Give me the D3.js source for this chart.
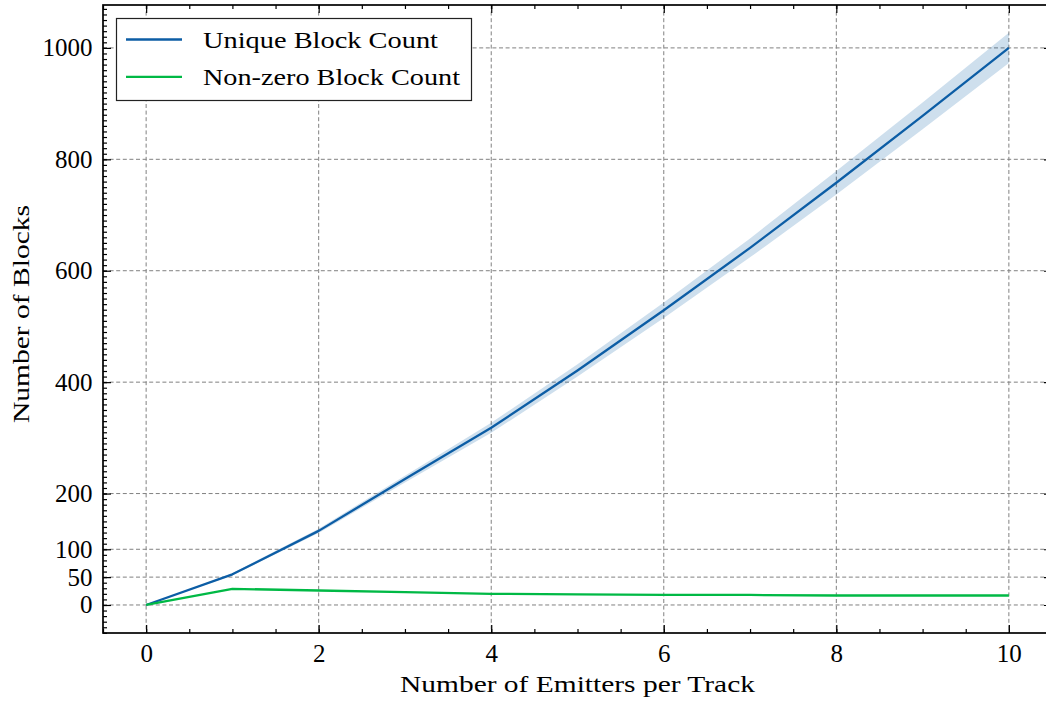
<!DOCTYPE html>
<html>
<head>
<meta charset="utf-8">
<script src="https://cdn.jsdelivr.net/npm/d3@7"></script>
<style>
  body { margin: 0; background: #fff; }
  text { font-family: "Liberation Serif", "DejaVu Serif", serif; fill: #000; }
</style>
</head>
<body>
<svg id="chart" width="1046" height="706"></svg>
<script>
// Emitters per track and the block counts measured for each
const emitters = [0, 1, 2, 3, 4, 5, 6, 7, 8, 9, 10];
const uniqueMean = [0, 55, 133, 226, 318, 421, 529, 641, 758, 878, 1000];
const uniqueStd = [0, 2, 4, 6, 9, 11, 14, 17, 21, 24, 27];
const nonzeroMean = [0, 29, 26, 23, 20, 19, 18, 18, 17, 17, 17];

const xTicks = [0, 2, 4, 6, 8, 10];
const yTicks = [0, 50, 100, 200, 400, 600, 800, 1000];
const seriesNames = ["Unique Block Count", "Non-zero Block Count"];
const seriesColors = ["#0C5DA5", "#00B945"];

const svg = d3.select("#chart");
const plot = { left: 103, right: 1052, top: 5, bottom: 633 };
const fontSize = 23;
const tickFont = 25;

const x = d3.scaleLinear().domain([-0.5, 10.5]).range([plot.left, plot.right]);
const y = d3.scaleLinear().domain([-50.3, 1077]).range([plot.bottom, plot.top]);

const xMinor = d3.range(-0.5, 10.51, 0.5);
const yMinor = d3.range(-50, 1077, 10);

svg.append("defs").append("clipPath").attr("id", "plot-clip")
  .append("rect")
  .attr("x", plot.left).attr("y", plot.top)
  .attr("width", plot.right - plot.left).attr("height", plot.bottom - plot.top);

// Dashed grid on major ticks
const grid = svg.append("g").attr("stroke", "#808080").attr("stroke-width", 1)
  .attr("stroke-dasharray", "4,2.6");
grid.selectAll("line.gx").data(xTicks).join("line").attr("class", "gx")
  .attr("x1", d => x(d)).attr("x2", d => x(d))
  .attr("y1", plot.top).attr("y2", plot.bottom);
grid.selectAll("line.gy").data(yTicks).join("line").attr("class", "gy")
  .attr("x1", plot.left).attr("x2", plot.right)
  .attr("y1", d => y(d)).attr("y2", d => y(d));

const data = emitters.map((e, i) => ({
  x: e, u: uniqueMean[i], s: uniqueStd[i], n: nonzeroMean[i]
}));

const marks = svg.append("g").attr("clip-path", "url(#plot-clip)");

// Spread band around the unique block count
marks.append("path")
  .datum(data)
  .attr("fill", seriesColors[0])
  .attr("fill-opacity", 0.2)
  .attr("d", d3.area().x(d => x(d.x)).y0(d => y(d.u - d.s)).y1(d => y(d.u + d.s)));

marks.append("path")
  .datum(data)
  .attr("fill", "none")
  .attr("stroke", seriesColors[0])
  .attr("stroke-width", 2.3)
  .attr("stroke-linejoin", "round")
  .attr("d", d3.line().x(d => x(d.x)).y(d => y(d.u)));

marks.append("path")
  .datum(data)
  .attr("fill", "none")
  .attr("stroke", seriesColors[1])
  .attr("stroke-width", 2.3)
  .attr("stroke-linejoin", "round")
  .attr("d", d3.line().x(d => x(d.x)).y(d => y(d.n)));

// Inward tick marks on all sides
function tickMarks(axisFn, scale, values, size, transform) {
  const g = svg.append("g").attr("transform", transform)
    .call(axisFn(scale).tickValues(values).tickSize(-size).tickFormat(""));
  g.select(".domain").remove();
  g.selectAll("line").attr("stroke", "#000").attr("stroke-width", 1.2);
  return g;
}
tickMarks(d3.axisBottom, x, xTicks, 8, `translate(0,${plot.bottom})`);
tickMarks(d3.axisBottom, x, xMinor, 4, `translate(0,${plot.bottom})`);
tickMarks(d3.axisTop, x, xTicks, 8, `translate(0,${plot.top})`);
tickMarks(d3.axisTop, x, xMinor, 4, `translate(0,${plot.top})`);
tickMarks(d3.axisLeft, y, yTicks, 8, `translate(${plot.left},0)`);
tickMarks(d3.axisLeft, y, yMinor, 4, `translate(${plot.left},0)`);
tickMarks(d3.axisRight, y, yTicks, 8, `translate(${plot.right},0)`);
tickMarks(d3.axisRight, y, yMinor, 4, `translate(${plot.right},0)`);

// Tick labels
const xLab = svg.append("g").attr("transform", `translate(0,${plot.bottom})`)
  .call(d3.axisBottom(x).tickValues(xTicks).tickSize(0).tickPadding(11).tickFormat(d3.format("d")));
xLab.select(".domain").remove();
xLab.selectAll("text").style("font-size", tickFont + "px").style("font-family", null);

const yLab = svg.append("g").attr("transform", `translate(${plot.left},0)`)
  .call(d3.axisLeft(y).tickValues(yTicks).tickSize(0).tickPadding(10.5).tickFormat(d3.format("d")));
yLab.select(".domain").remove();
yLab.selectAll("text").style("font-size", tickFont + "px").style("font-family", null);

// Spines
svg.append("rect")
  .attr("x", plot.left).attr("y", plot.top)
  .attr("width", plot.right - plot.left).attr("height", plot.bottom - plot.top)
  .attr("fill", "none").attr("stroke", "#000").attr("stroke-width", 1.7);

// Axis titles (set to the width of the typeset labels)
svg.append("text")
  .attr("x", (plot.left + plot.right) / 2).attr("y", 692)
  .attr("text-anchor", "middle")
  .attr("textLength", 355).attr("lengthAdjust", "spacingAndGlyphs")
  .style("font-size", fontSize + "px")
  .text("Number of Emitters per Track");

svg.append("text")
  .attr("transform", `translate(29,${(plot.top + plot.bottom) / 2 - 5}) rotate(-90)`)
  .attr("text-anchor", "middle")
  .attr("textLength", 218).attr("lengthAdjust", "spacingAndGlyphs")
  .style("font-size", fontSize + "px")
  .text("Number of Blocks");

// Legend
const legendWidths = [235, 257];
const legend = svg.append("g");
legend.append("rect")
  .attr("x", 116.5).attr("y", 18.5).attr("width", 355).attr("height", 82)
  .attr("fill", "#fff").attr("stroke", "#222").attr("stroke-width", 1.2);
seriesNames.forEach((name, i) => {
  const cy = 39.5 + i * 37.3;
  legend.append("line")
    .attr("x1", 126).attr("x2", 182).attr("y1", cy).attr("y2", cy)
    .attr("stroke", seriesColors[i]).attr("stroke-width", 2.3);
  legend.append("text")
    .attr("x", 203).attr("y", cy + 8)
    .attr("textLength", legendWidths[i]).attr("lengthAdjust", "spacingAndGlyphs")
    .style("font-size", fontSize + "px")
    .text(name);
});
</script>
</body>
</html>
